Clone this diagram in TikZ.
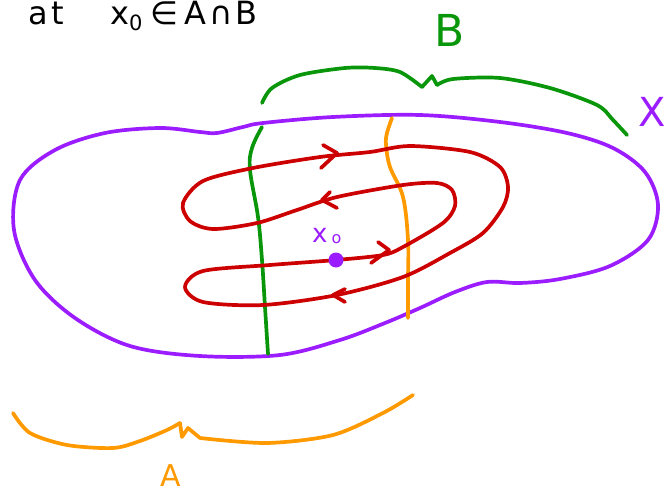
\documentclass[tikz,border=0pt]{standalone}
\usepackage{fontspec}
\setmainfont{DejaVu Sans}
\usetikzlibrary{calc}
\definecolor{cpurple}{RGB}{155,28,255}
\definecolor{cgreen}{RGB}{10,150,10}
\definecolor{corange}{RGB}{255,153,0}
\definecolor{cred}{RGB}{204,0,0}
\tikzset{
  pen/.style={line width=3.7pt, line cap=round, line join=round},
  chev/.style={pen, cred},
  lbl/.style={inner sep=0pt}
}
\begin{document}
\begin{tikzpicture}[x=1pt,y=-1pt]
\useasboundingbox (0,0) rectangle (666,495);
\clip (0,0) rectangle (666,495);
% heading text (cut at top)
\node[lbl, anchor=base west, font=\fontsize{32}{32}\selectfont] (at) at (28,25) {a\hspace{4pt}t};
\node[lbl, anchor=base west, font=\fontsize{32}{32}\selectfont] (cond) at (110,25) {x\raisebox{-6pt}{\fontsize{21}{21}\selectfont 0}\hspace{8pt}∈\hspace{6pt}A\hspace{3pt}∩\hspace{3pt}B};
% purple set X
\draw[pen, cpurple] plot[smooth cycle, tension=0.55] coordinates {
 (200,132) (217,133) (243,127) (263,123) (333,117) (420,115) (500,122) (567,133)
 (613,148) (645,172) (658,205) (648,240) (610,266) (560,279) (520,283) (487,282)
 (455,292) (420,308) (385,323) (340,340) (280,355) (200,356) (130,346) (75,318)
 (35,280) (14,230) (20,180) (55,150) (105,133) (160,128)};
% green B line and brace
\draw[pen, cgreen] plot[smooth, tension=0.6] coordinates {
 (262,127) (252,148) (250,170) (258,217) (262,260) (265,307) (268,354)};
\draw[pen, cgreen] plot[smooth, tension=0.5] coordinates {
 (262,103) (272,88) (300,75) (345,68) (375,68) (400,72) (422,87)};
\draw[pen, cgreen] (422,87) -- (432,76) -- (437,85);
\draw[pen, cgreen] plot[smooth, tension=0.5] coordinates {
 (437,85) (453,79) (500,78) (550,88) (597,105) (613,120) (627,135)};
% orange A line and brace
\draw[pen, corange] plot[smooth, tension=0.6] coordinates {
 (392,118) (387,133) (386,145) (390,167) (403,197) (408,240) (408,280) (408,318)};
\draw[pen, corange] plot[smooth, tension=0.5] coordinates {
 (13,413) (30,433) (67,445) (113,448) (140,441) (167,430) (180,423)};
\draw[pen, corange] (180,423) -- (182,437) -- (188,428) -- (200,438);
\draw[pen, corange] plot[smooth, tension=0.5] coordinates {
 (200,438) (267,443) (333,435) (383,413) (413,395)};
% red loop
\draw[pen, cred] plot[smooth cycle, tension=0.5] coordinates {
 (336,260) (383,255) (403,247) (443,223) (455,206) (452,190) (437,183) (403,185)
 (337,197) (297,210) (257,223) (213,229) (190,221) (183,203) (203,181) (253,168)
 (320,157) (370,152) (410,146) (470,152) (500,167) (508,187) (503,207) (483,233)
 (450,253) (403,277) (337,295) (263,305) (203,302) (185,287) (203,271) (270,265)};
% arrowheads
\draw[chev] (323,145) -- (337,153) -- (321,168);
\draw[chev] (330,192) -- (322,200) -- (337,208);
\draw[chev] (378,242) -- (389,250) -- (371,263);
\draw[chev] (345,289) -- (333,295) -- (345,302);
% base point
\fill[cpurple] (336,260) circle[radius=7.5] coordinate (x0);
\node[lbl, cpurple, anchor=base west, font=\fontsize{26}{26}\selectfont] (x0lab) at (312,242) {x\hspace{4pt}\raisebox{-1pt}{\fontsize{16}{16}\selectfont o}};
% labels
\node[lbl, cgreen, font=\fontsize{44}{44}\selectfont] (Blab) at (450,30) {B};
\node[lbl, cpurple, font=\fontsize{40}{40}\selectfont] (Xlab) at (652,112) {X};
\node[lbl, corange, font=\fontsize{30}{30}\selectfont] (Alab) at (171,476) {A};
\end{tikzpicture}
\end{document}
